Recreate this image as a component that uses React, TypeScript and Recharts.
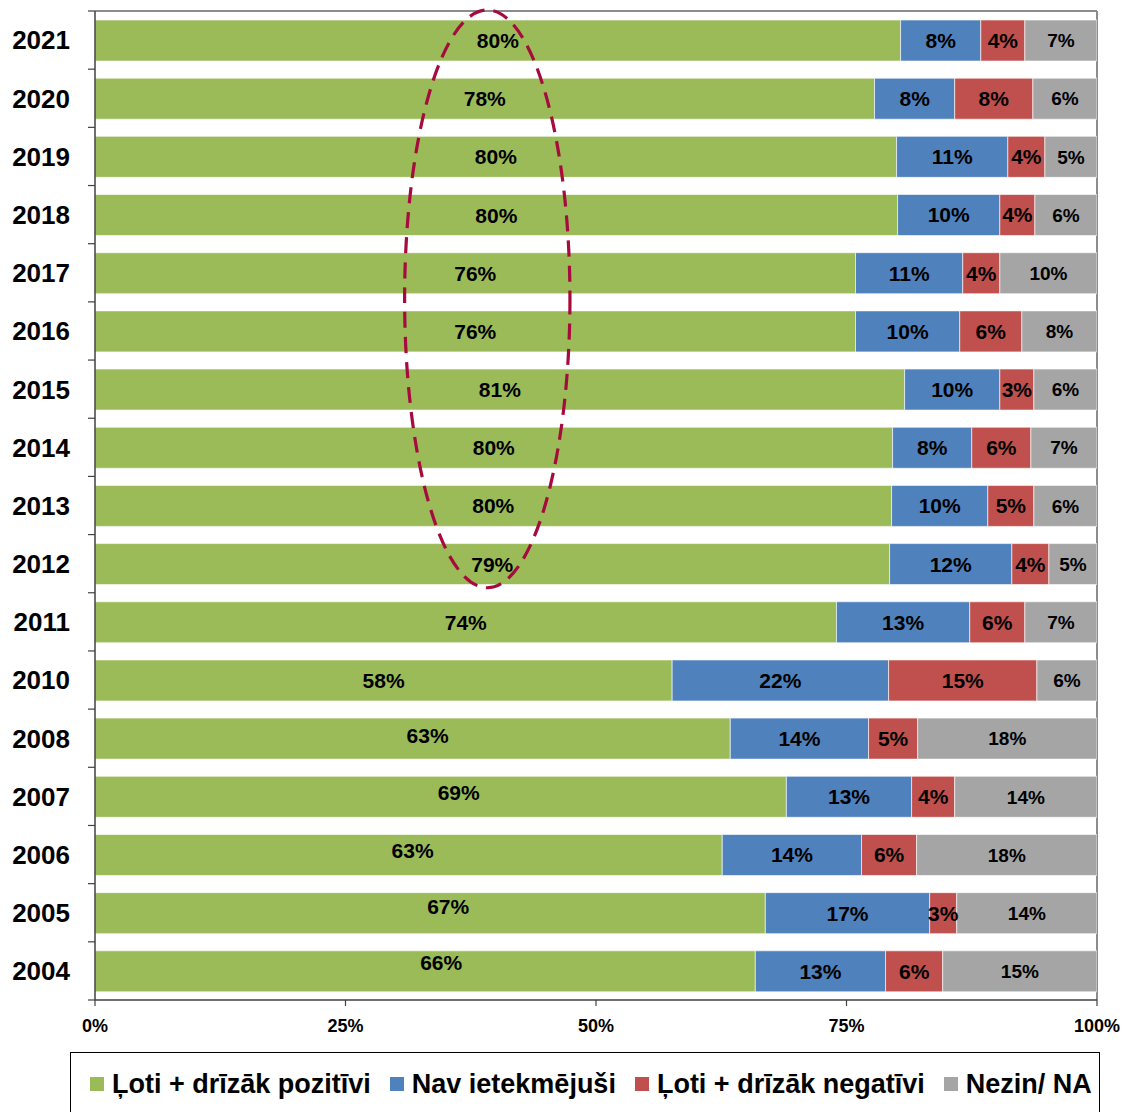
import React from 'react';
import { BarChart, Bar, XAxis, YAxis, LabelList, Legend, ReferenceArea, CartesianGrid } from 'recharts';

const years = ['2021', '2020', '2019', '2018', '2017', '2016', '2015', '2014', '2013', '2012', '2011', '2010', '2008', '2007', '2006', '2005', '2004'];
const positive = [80.4, 77.8, 80.0, 80.1, 75.9, 75.9, 80.8, 79.6, 79.5, 79.3, 74.0, 57.6, 63.4, 69.0, 62.6, 66.9, 65.9];
const neutral = [8.0, 8.0, 11.1, 10.2, 10.7, 10.4, 9.5, 7.9, 9.6, 12.2, 13.3, 21.6, 13.8, 12.5, 13.9, 16.4, 13.0];
const negative = [4.4, 7.8, 3.7, 3.5, 3.7, 6.2, 3.4, 5.9, 4.6, 3.7, 5.5, 14.8, 4.9, 4.3, 5.5, 2.7, 5.7];
const unknown = [7.2, 6.4, 5.2, 6.2, 9.7, 7.5, 6.3, 6.6, 6.3, 4.8, 7.2, 6.0, 17.9, 14.2, 18.0, 14.0, 15.4];

const positiveLabels = [80, 78, 80, 80, 76, 76, 81, 80, 80, 79, 74, 58, 63, 69, 63, 67, 66];
const neutralLabels = [8, 8, 11, 10, 11, 10, 10, 8, 10, 12, 13, 22, 14, 13, 14, 17, 13];
const negativeLabels = [4, 8, 4, 4, 4, 6, 3, 6, 5, 4, 6, 15, 5, 4, 6, 3, 6];
const unknownLabels = [7, 6, 5, 6, 10, 8, 6, 7, 6, 5, 7, 6, 18, 14, 18, 14, 15];

const seriesNames = ['Ļoti + drīzāk pozitīvi', 'Nav ietekmējuši', 'Ļoti + drīzāk negatīvi', 'Nezin/ NA'];
const xTicks = [0, 25, 50, 75, 100];

const highlightYears = ['2021', '2012'];
const highlightRange = [30.9, 47.4];

const FONT = '"Liberation Sans", Arial, sans-serif';
const COLORS = ['#9BBB59', '#4F81BD', '#C0504D', '#A5A5A5'];

// manual nudges of some green labels, as placed in the original chart (dx, dy in px)
const greenLabelNudge: Record<number, [number, number]> = {
  12: [15, -3],
  13: [18, -4],
  14: [4, -5],
  15: [18, -7],
  16: [16, -9],
};

const data = years.map((y, i) => ({
  year: y,
  pos: positive[i],
  neu: neutral[i],
  neg: negative[i],
  na: unknown[i],
  posL: positiveLabels[i],
  neuL: neutralLabels[i],
  negL: negativeLabels[i],
  naL: unknownLabels[i],
}));

const YTick = (props: any) => {
  const { x, y, payload, index, visibleTicksCount } = props;
  const half = payload && typeof payload.offset === 'number' && payload.offset > 0 ? payload.offset : 29.1;
  const axisX = x + 25;
  return (
    <g>
      <line x1={axisX - 7} x2={axisX} y1={y - half} y2={y - half} stroke="#404040" strokeWidth={1.2} />
      {index === visibleTicksCount - 1 && (
        <line x1={axisX - 7} x2={axisX} y1={y + half} y2={y + half} stroke="#404040" strokeWidth={1.2} />
      )}
      <text x={x} y={y} dy="0.36em" textAnchor="end" fontFamily={FONT} fontWeight="bold" fontSize={26} fill="#000">
        {payload.value}
      </text>
    </g>
  );
};

const EllipseShape = (p: any) => {
  const { x, y, width, height } = p;
  if (x == null || y == null) return null;
  return (
    <ellipse
      cx={x + width / 2}
      cy={y + height / 2 - 3}
      rx={width / 2}
      ry={height / 2 - 2}
      fill="none"
      stroke="#A50B3C"
      strokeWidth={3.2}
      strokeDasharray="16 9"
    />
  );
};

const LegendContent = (props: any) => {
  const payload = [...(props.payload || [])].sort(
    (a: any, b: any) => seriesNames.indexOf(a.value) - seriesNames.indexOf(b.value)
  );
  return (
    <div
      style={{
        boxSizing: 'border-box',
        width: 1030,
        height: 80,
        border: '1.5px solid #000',
        background: '#fff',
        display: 'flex',
        alignItems: 'flex-start',
        justifyContent: 'flex-start',
        paddingTop: 16,
        paddingLeft: 19,
        fontFamily: FONT,
        fontWeight: 'bold',
        fontSize: 27,
        color: '#000',
      }}
    >
      {payload.map((item: any, i: number) => (
        <div key={i} style={{ display: 'flex', alignItems: 'center', marginRight: i < 3 ? 19 : 0 }}>
          <div style={{ width: 14, height: 14, background: item.color, marginRight: 8 }} />
          <span style={{ lineHeight: '30px' }}>{item.value}</span>
        </div>
      ))}
    </div>
  );
};

const GreenLabel = (props: any) => {
  const { x, y, width, height, value, index } = props;
  const [dx, dy] = greenLabelNudge[index] || [0, 0];
  return (
    <text
      x={x + width / 2 + dx}
      y={y + height / 2 + dy}
      dy="0.36em"
      textAnchor="middle"
      fontFamily={FONT}
      fontWeight="bold"
      fontSize={21}
      fill="#000"
    >
      {`${value}%`}
    </text>
  );
};

const labelStyle = { fontFamily: FONT, fontWeight: 'bold' as const, fill: '#000' };
const pct = (v: any) => `${v}%`;

export default function App() {
  return (
    <div style={{ position: 'absolute', left: 0, top: 0, width: 1126, height: 1112, overflow: 'hidden', background: '#fff' }}>
      <BarChart
        width={1126}
        height={1112}
        data={data}
        layout="vertical"
        margin={{ top: 11, right: 29, left: 0, bottom: 82 }}
        barSize={41}
      >
        <CartesianGrid
          stroke="#8C8C8C"
          strokeWidth={2}
          horizontalCoordinatesGenerator={(p: any) => [p.offset.top]}
          verticalCoordinatesGenerator={(p: any) => [p.offset.left + p.offset.width]}
        />
        <XAxis
          type="number"
          domain={[0, 100]}
          ticks={xTicks}
          tickFormatter={pct}
          height={30}
          tickSize={6}
          tickMargin={13}
          axisLine={{ stroke: '#404040', strokeWidth: 1.5 }}
          tickLine={{ stroke: '#404040', strokeWidth: 1.2 }}
          tick={{ fontFamily: FONT, fontWeight: 'bold', fontSize: 18, fill: '#000' }}
          allowDataOverflow
        />
        <YAxis
          type="category"
          dataKey="year"
          width={95}
          tickSize={7}
          tickMargin={18}
          tickLine={{ stroke: 'none' }}
          axisLine={{ stroke: '#404040', strokeWidth: 1.5 }}
          tick={<YTick />}
          interval={0}
        />
        <Bar dataKey="pos" name={seriesNames[0]} stackId="a" fill={COLORS[0]} stroke="#ffffff" strokeOpacity={0.6} strokeWidth={1} isAnimationActive={false}>
          <LabelList dataKey="posL" content={<GreenLabel />} />
        </Bar>
        <Bar dataKey="neu" name={seriesNames[1]} stackId="a" fill={COLORS[1]} stroke="#ffffff" strokeOpacity={0.6} strokeWidth={1} isAnimationActive={false}>
          <LabelList dataKey="neuL" position="center" formatter={pct} style={{ ...labelStyle, fontSize: 21 }} />
        </Bar>
        <Bar dataKey="neg" name={seriesNames[2]} stackId="a" fill={COLORS[2]} stroke="#ffffff" strokeOpacity={0.6} strokeWidth={1} isAnimationActive={false}>
          <LabelList dataKey="negL" position="center" formatter={pct} style={{ ...labelStyle, fontSize: 21 }} />
        </Bar>
        <Bar dataKey="na" name={seriesNames[3]} stackId="a" fill={COLORS[3]} stroke="#ffffff" strokeOpacity={0.6} strokeWidth={1} isAnimationActive={false}>
          <LabelList dataKey="naL" position="center" formatter={pct} style={{ ...labelStyle, fontSize: 19 }} />
        </Bar>
        <ReferenceArea
          x1={highlightRange[0]}
          x2={highlightRange[1]}
          y1={highlightYears[0]}
          y2={highlightYears[1]}
          ifOverflow="visible"
          zIndex={2000}
          shape={<EllipseShape />}
        />
        <Legend
          layout="horizontal"
          verticalAlign="middle"
          align="center"
          itemSorter={null as any}
          wrapperStyle={{ left: 70, top: 1052, width: 1030, height: 80 }}
          content={<LegendContent />}
        />
      </BarChart>
    </div>
  );
}
